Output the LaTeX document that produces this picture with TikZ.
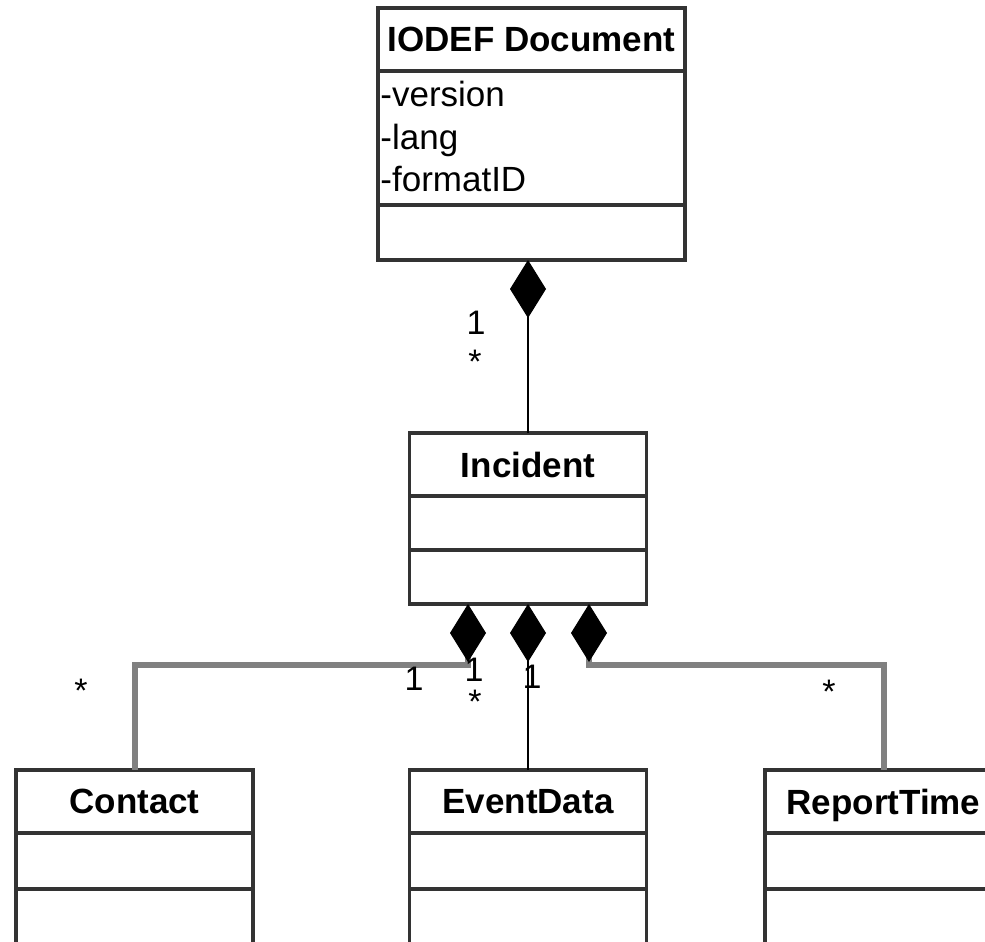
\documentclass[tikz,border=0pt]{standalone}
\usepackage{fontspec}
\setmainfont{Liberation Sans}
\usetikzlibrary{positioning,arrows.meta}

\tikzset{
  clsbox/.style={draw=black!80, line width=1.8pt, fill=white, inner sep=0pt, outer sep=0pt, minimum width=118.5pt},
  clshead/.style={clsbox, minimum height=31.5pt, text depth=0pt, font=\bfseries\fontsize{17.5}{21}\selectfont},
  clspart/.style={clsbox, minimum height=#1},
  attrtxt/.style={anchor=base west, inner sep=0pt, font=\fontsize{17.5}{21}\selectfont},
  mult/.style={anchor=base, inner sep=0pt, font=\fontsize{17}{20}\selectfont},
  comp/.style={{Diamond[length=29pt,width=18pt,line width=0.5pt,color=black,fill=black]}-, draw=black, line width=1.4pt},
  side/.style={comp, draw=black!50, line width=3pt},
}

\begin{document}
\begin{tikzpicture}[x=0.5pt, y=-0.5pt]
  \useasboundingbox (0,0) rectangle (985,942);

  % IODEF Document
  \node[clshead, minimum width=153.5pt] (doc) at (531.5,39.5) {IODEF Document};
  \node[clspart=67pt, minimum width=153.5pt, below=0pt of doc] (docattr) {};
  \node[clspart=27.5pt, minimum width=153.5pt, below=0pt of docattr] (docop) {};
  \node[attrtxt] (ver) at (380,106) {-version};
  \node[attrtxt] (lang) at (380,149) {-lang};
  \node[attrtxt] (fmt) at (380,191) {-formatID};

  % Incident
  \node[clshead] (inc) at (528,464.5) {Incident};
  \node[clspart=27pt, below=0pt of inc] (incattr) {};
  \node[clspart=27pt, below=0pt of incattr] (incop) {};

  % Contact, EventData, ReportTime
  \node[clshead] (con) at (134.5,801.5) {Contact};
  \node[clspart=28pt, below=0pt of con] (conattr) {};
  \node[clspart=36pt, below=0pt of conattr] (conop) {};

  \node[clshead] (evt) at (528,801.5) {EventData};
  \node[clspart=28pt, below=0pt of evt] (evtattr) {};
  \node[clspart=36pt, below=0pt of evtattr] (evtop) {};

  \node[clshead] (rep) at (883.5,801.5) {ReportTime};
  \node[clspart=28pt, below=0pt of rep] (repattr) {};
  \node[clspart=36pt, below=0pt of repattr] (repop) {};

  % compositions
  \draw[comp] (inc.north |- docop.south) -- (inc.north);
  \draw[side] ([xshift=-30pt]incop.south) -- ++(0,61) -| (con.north);
  \draw[comp] (incop.south) -- (evt.north);
  \draw[side] ([xshift=30.5pt]incop.south) -- ++(0,61) -| (rep.north);

  % multiplicities
  \node[mult] (doc1) at (476,334) {1};
  \node[mult] (docn) at (475,373) {*};
  \node[mult] (conn) at (81,702) {*};
  \node[mult] (con1) at (414,690) {1};
  \node[mult] (evt1) at (474,681) {1};
  \node[mult] (evtn) at (475,713) {*};
  \node[mult] (evt1b) at (532,688) {1};
  \node[mult] (repn) at (829,703) {*};
\end{tikzpicture}
\end{document}
